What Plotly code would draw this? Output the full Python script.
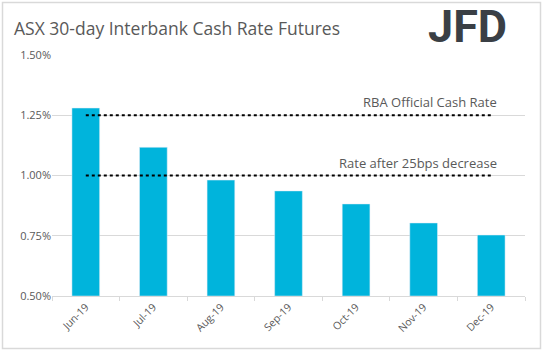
import plotly.graph_objects as go

months = ["Jun-19", "Jul-19", "Aug-19", "Sep-19", "Oct-19", "Nov-19", "Dec-19"]
futures = [1.280, 1.117, 0.981, 0.936, 0.882, 0.803, 0.753]
official_rate = [1.25] * 7
after_cut = [1.00] * 7
y_ticks = [0.50, 0.75, 1.00, 1.25, 1.50]
y_tick_text = ["0.50%", "0.75%", "1.00%", "1.25%", "1.50%"]

grey = "#595959"
W, H = 543, 351
ML, MR, MT, MB = 52, 18, 55, 55
PW, PH = W - ML - MR, H - MT - MB


def px_x(x):
    return (x - ML) / PW


def px_y(y):
    return (H - MB - y) / PH


fig = go.Figure()
fig.add_trace(go.Bar(x=months, y=[v - 0.5 for v in futures], base=0.5,
                     marker_color="#00B4DC", width=0.41, showlegend=False))
fig.add_trace(go.Scatter(x=months, y=official_rate, mode="lines",
                         line=dict(color="black", dash="dot", width=2), showlegend=False))
fig.add_trace(go.Scatter(x=months, y=after_cut, mode="lines",
                         line=dict(color="black", dash="dot", width=2), showlegend=False))

fig.add_annotation(x=months[-1], y=1.25, text="RBA Official Cash Rate", showarrow=False,
                   xanchor="right", yanchor="bottom", xshift=8, yshift=2,
                   font=dict(size=13, color=grey, family="Open Sans"))
fig.add_annotation(x=months[-1], y=1.00, text="Rate after 25bps decrease", showarrow=False,
                   xanchor="right", yanchor="bottom", xshift=8, yshift=2,
                   font=dict(size=13, color=grey, family="Open Sans"))

fig.add_annotation(xref="paper", yref="paper", x=px_x(12), y=px_y(28), yanchor="middle",
                   xanchor="left",
                   text="ASX 30-day Interbank Cash Rate Futures", showarrow=False,
                   font=dict(size=17.5, color=grey, family="Open Sans"))
fig.add_annotation(xref="paper", yref="paper", x=px_x(509), y=px_y(27), yanchor="middle",
                   xanchor="right",
                   text="<b>JFD</b>", showarrow=False,
                   font=dict(size=45, color="#3a3f45", family="Roboto"))

fig.add_shape(type="rect", xref="paper", yref="paper",
              x0=px_x(2.5), x1=px_x(540.5), y0=px_y(348.5), y1=px_y(2.5),
              line=dict(color="#d9d9d9", width=1.5), layer="above")

fig.update_layout(
    width=W, height=H,
    margin=dict(l=ML, r=MR, t=MT, b=MB),
    plot_bgcolor="white", paper_bgcolor="white",
    font=dict(family="Open Sans", color=grey, size=11),
    xaxis=dict(tickangle=-45, showline=True, linecolor="#d9d9d9", ticks="outside",
               tickson="boundaries", tickcolor="#d9d9d9", ticklen=4,
               tickfont=dict(size=10.5, color=grey)),
    yaxis=dict(range=[0.5, 1.5], tickvals=y_ticks, ticktext=y_tick_text,
               gridcolor="#d9d9d9", zeroline=False, tickfont=dict(size=11, color=grey),
               ticks="", showline=False),
    bargap=0.59,
)
fig.write_html("out.html")
